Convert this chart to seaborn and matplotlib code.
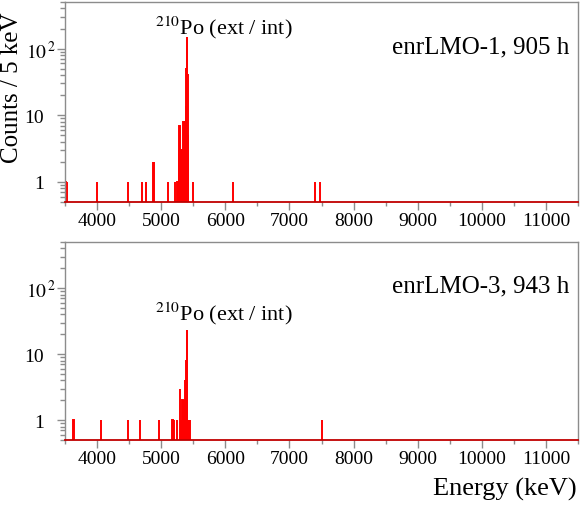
import numpy as np
import pandas as pd
import matplotlib
matplotlib.use('Agg')
import matplotlib.pyplot as plt
import seaborn as sns
from matplotlib.transforms import ScaledTranslation
from matplotlib.ticker import FixedLocator, FixedFormatter, MultipleLocator, LogLocator, NullFormatter

# non-empty 5 keV bins: bin centre (keV) and counts
lmo1_energy = [3505, 3525, 3995, 4480, 4700, 4760, 4865, 4885, 5105, 5215,
               5250, 5265, 5280, 5285, 5295, 5305, 5315, 5325, 5335, 5345,
               5355, 5365, 5375, 5385, 5390, 5395, 5400, 5405, 5410, 5415,
               5495, 6120, 7400, 7470]
lmo1_counts = [1, 1, 1, 1, 1, 1, 2, 2, 1, 1,
               1, 1, 3, 7, 7, 3, 3, 3, 3, 8,
               8, 3, 8, 14, 50, 150, 120, 150, 40, 5,
               1, 1, 1, 1]

lmo3_energy = [3630, 4060, 4475, 4665, 4960, 5175, 5195, 5240, 5290, 5305,
               5330, 5340, 5355, 5365, 5390, 5395, 5400, 5405, 5420, 5435,
               5445, 7510]
lmo3_counts = [1, 1, 1, 1, 1, 1, 1, 1, 3, 1,
               2, 2, 2, 4, 8, 23, 23, 15, 1, 1,
               1, 1]

panels = [('enrLMO-1, 905 h', lmo1_energy, lmo1_counts, 0.875),
          ('enrLMO-3, 943 h', lmo3_energy, lmo3_counts, 0.645)]

e_min, e_max, bin_w = 3500, 11500, 5

sns.set_style('white')
plt.rcParams['font.family'] = ['Liberation Serif', 'DejaVu Serif']
plt.rcParams['mathtext.fontset'] = 'stix'
plt.rcParams['text.color'] = 'black'
plt.rcParams['xtick.labelcolor'] = 'black'
plt.rcParams['ytick.labelcolor'] = 'black'

fig = plt.figure(figsize=(5.81, 5.06), dpi=100)
ax1 = fig.add_axes([0.1119, 0.5988, 0.883, 0.3953])
ax2 = fig.add_axes([0.1119, 0.1285, 0.883, 0.3913])

grey = '#8c8c8c'

for ax, (label, energy, counts, po_y) in zip([ax1, ax2], panels):
    df = pd.DataFrame({'energy': energy, 'counts': counts})
    sns.histplot(data=df, x='energy', weights='counts', binwidth=bin_w,
                 binrange=(e_min, e_max), ax=ax,
                 color='red', edgecolor='red', linewidth=1.4, alpha=1)
    ax.set_yscale('log')
    ax.set_xlim(e_min, e_max)
    ax.set_ylim(0.5, 500)
    ax.set_xlabel('')
    ax.set_ylabel('')

    # axis frame, ROOT-like
    for side in ['left', 'top', 'right']:
        ax.spines[side].set_color(grey)
        ax.spines[side].set_linewidth(1)
    ax.spines['bottom'].set_color('#c00000')
    ax.spines['bottom'].set_linewidth(1.3)

    ax.xaxis.set_major_locator(MultipleLocator(1000))
    ax.xaxis.set_minor_locator(MultipleLocator(500))
    ax.yaxis.set_major_locator(FixedLocator([1, 10, 100]))
    ax.yaxis.set_major_formatter(FixedFormatter(['1', '10', r'$10^{\,2}$']))
    ax.yaxis.set_minor_locator(LogLocator(base=10, subs=np.arange(2, 10)))
    ax.yaxis.set_minor_formatter(NullFormatter())

    ax.tick_params(bottom=True, left=True, top=False, right=False, which='both')
    ax.tick_params(axis='x', which='major', direction='out', length=6,
                   width=1, color=grey, labelsize=14, pad=1)
    ax.tick_params(axis='x', which='minor', direction='out', length=3,
                   width=1, color=grey)
    ax.tick_params(axis='y', which='major', direction='out', length=6,
                   width=1, color=grey, labelsize=14, pad=9)
    ax.tick_params(axis='y', which='minor', direction='out', length=3.5,
                   width=1, color=grey)

    ax.text(0.984, 0.78, label, transform=ax.transAxes, ha='right',
            va='center', fontsize=18)
    ax.text(0.175, po_y, r'$^{210}$Po (ext / int)', transform=ax.transAxes,
            ha='left', va='center', fontsize=16)

# ROOT puts the exponent to the right of the aligned "10"
fig.canvas.draw()
for ax in [ax1, ax2]:
    lab = ax.yaxis.get_major_ticks()[2].label1
    lab.set_transform(lab.get_transform() +
                      ScaledTranslation(12 / 100, 0, fig.dpi_scale_trans))

fig.text(12 / 581, 1 - 88 / 506, 'Counts / 5 keV', rotation=90,
         ha='center', va='center', fontsize=18)
fig.text(577 / 581, 1 - 489 / 506, 'Energy (keV)', ha='right',
         va='center', fontsize=19)

fig.savefig('out.png', dpi=100)
